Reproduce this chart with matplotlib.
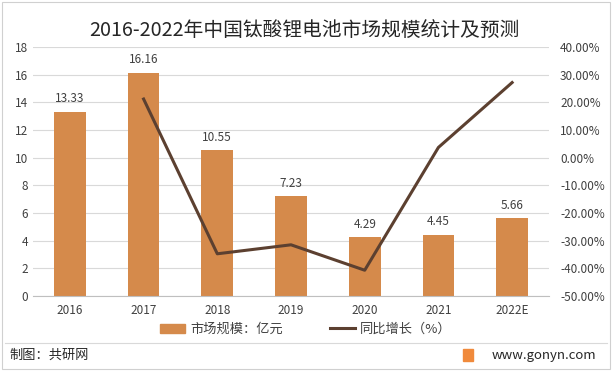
import matplotlib
matplotlib.use("Agg")
import matplotlib.pyplot as plt
from matplotlib.lines import Line2D
from matplotlib.patches import Rectangle
import numpy as np

plt.rcParams['font.family'] = ['Noto Sans CJK SC', 'DejaVu Sans']

years = ['2016', '2017', '2018', '2019', '2020', '2021', '2022E']
market = [13.33, 16.16, 10.55, 7.23, 4.29, 4.45, 5.66]
growth = [None, 21.23, -34.72, -31.47, -40.66, 3.73, 27.19]
left_ticks = list(range(0, 19, 2))
right_ticks = list(range(-50, 41, 10))

bar_color = '#D58A4B'
line_color = '#5C4030'
text_color = '#404040'

fig = plt.figure(figsize=(6.12, 3.71), dpi=100)
ax = fig.add_axes([0.054, 0.202, 0.843, 0.671])
x = np.arange(len(years))
bars = ax.bar(x, market, width=0.43, color=bar_color, zorder=2)
for xi, v in zip(x, market):
    ax.text(xi, v + 0.45, f'{v:.2f}', ha='center', va='bottom', fontsize=8.5, color=text_color)
ax.set_ylim(0, 18)
ax.set_yticks(left_ticks)
ax.set_xlim(-0.5, len(years) - 0.5)
ax.set_xticks(x)
ax.set_xticklabels(years)
ax.grid(axis='y', color='#D9D9D9', linewidth=0.8, zorder=0)
for s in ['top', 'right', 'left']:
    ax.spines[s].set_visible(False)
ax.spines['bottom'].set_color('#BFBFBF')
ax.tick_params(axis='both', length=0, labelsize=8.5, colors=text_color)
ax.tick_params(axis='x', pad=6)

ax2 = ax.twinx()
gx = [xi for xi, g in zip(x, growth) if g is not None]
gy = [g for g in growth if g is not None]
ax2.plot(gx, gy, color=line_color, linewidth=2.2, zorder=3)
ax2.set_ylim(-50, 40)
ax2.set_yticks(right_ticks)
ax2.set_yticklabels([f'{t:.2f}%' for t in right_ticks])
for s in ['top', 'right', 'left', 'bottom']:
    ax2.spines[s].set_visible(False)
ax2.tick_params(axis='y', length=0, labelsize=8.5, colors=text_color, pad=8)

fig.text(0.498, 0.917, '2016-2022年中国钛酸锂电池市场规模统计及预测', ha='center', va='center',
         fontsize=14.2, color='#262626')

handles = [Rectangle((0, 0), 1, 1, color=bar_color),
           Line2D([0], [0], color=line_color, linewidth=2.2)]
fig.legend(handles, ['市场规模：亿元', '同比增长（%）'], loc='center', bbox_to_anchor=(0.5, 0.112),
           ncol=2, frameon=False, fontsize=9.5, handlelength=1.9, handletextpad=0.4,
           columnspacing=3.5, labelcolor=text_color)

fig.add_artist(Line2D([0.008, 0.992], [0.075, 0.075], color='#D9D9D9', linewidth=0.8))
fig.add_artist(Rectangle((0.003, 0.005), 0.994, 0.99, fill=False, edgecolor='#D0D0D0', linewidth=0.8))
fig.text(0.016, 0.042, '制图：共研网', ha='left', va='center', fontsize=9.5, color='#262626')
fig.text(0.975, 0.042, 'www.gonyn.com', ha='right', va='center', fontsize=9.5, color='#262626')
fig.add_artist(Rectangle((0.757, 0.026), 0.016, 0.032, color='#F08A3C'))

fig.savefig('out.png', dpi=100, facecolor='white')
